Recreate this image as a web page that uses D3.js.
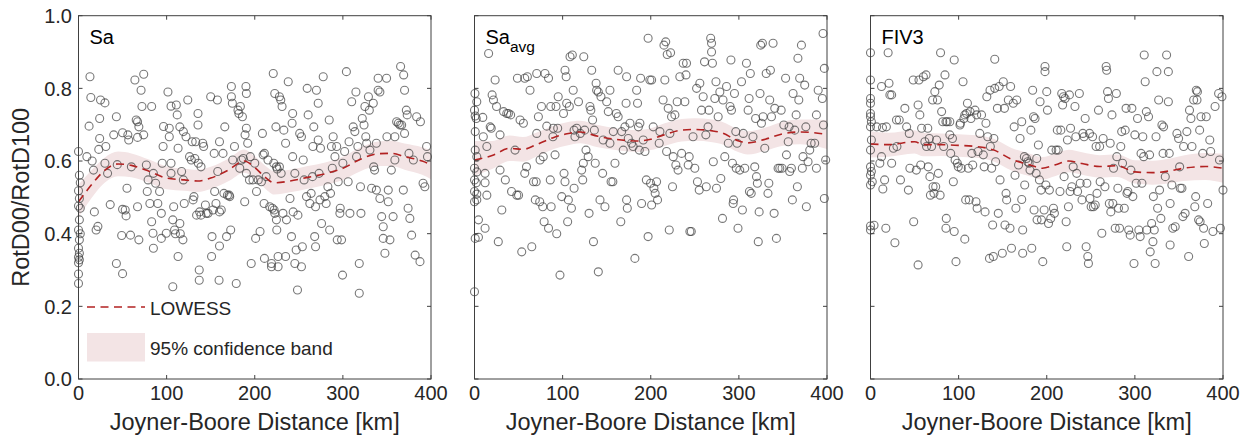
<!DOCTYPE html>
<html>
<head>
<meta charset="utf-8">
<script src="https://cdn.jsdelivr.net/npm/d3@7"></script>
<style>
  html, body { margin: 0; padding: 0; background: #fff; }
  svg { display: block; font-family: Helvetica, Arial, "Liberation Sans", sans-serif; }
</style>
</head>
<body>
<div id="chart"></div>
<script>
// ---- data ----
const xTicks = [0, 100, 200, 300, 400];
const yTicks = [0, 0.2, 0.4, 0.6, 0.8, 1.0];
const panelTitles = ["Sa", "Sa|avg", "FIV3"];
const xLabel = "Joyner-Boore Distance [km]";
const yLabel = "RotD00/RotD100";
const legendLabels = ["LOWESS", "95% confidence band"];

// [distance km, RotD00/RotD100]
const saPoints = [
  [0,0.626],[1,0.561],[2,0.54],[0,0.518],[1,0.497],[0,0.476],[2,0.47],[1,0.438],[0,0.41],[2,0.4],[1,0.383],[0,0.36],[1,0.346],[0,0.335],[1,0.328],[0,0.32],[0,0.289],[0,0.263],
  [13,0.832],[14,0.775],[12,0.696],[9.5,0.612],[15.5,0.6],[17,0.575],[18,0.46],[20,0.41],[22,0.42],[24,0.662],[23,0.632],[25,0.768],[30,0.76],[24,0.717],[31,0.64],[30,0.594],[33,0.566],[36,0.48],[40,0.672],[43,0.722],[44,0.59],[43,0.318],[50,0.678],[50,0.29],[49,0.395],[50,0.467],[53,0.465],[54,0.449],[56,0.672],[55,0.525],[57,0.658],[59,0.396],[60,0.584],[64,0.823],[65.5,0.713],[67,0.708],[67,0.474],[68.5,0.694],[67,0.665],[71,0.795],[74,0.839],[72,0.75],[74,0.672],[68.5,0.383],
  [77,0.589],[79,0.548],[78,0.516],[83,0.75],[81,0.483],[83,0.433],[84.5,0.401],[85,0.36],[85,0.566],[87.5,0.539],[90,0.483],[92,0.516],[94,0.387],[95,0.594],[96,0.64],[96.5,0.695],[94,0.456],[99.6,0.401],[101.5,0.79],[103,0.69],[103,0.667],[105,0.594],[105,0.566],[107,0.254],[105,0.751],[107,0.438],[108,0.474],[109,0.41],[110,0.4],[111,0.754],[112,0.727],[113,0.635],[113,0.337],[115,0.694],[115,0.428],[115.5,0.4],[117,0.571],[118.5,0.383],[119,0.681],[119,0.548],[120,0.483],[122,0.667],[124,0.768],[126,0.612],[128,0.603],[129,0.653],[130,0.493],[131,0.502],[132,0.607],[133,0.653],[134,0.451],[135.6,0.731],[135.6,0.699],[136,0.594],[137,0.3],[137,0.272],[137.5,0.46],[139,0.584],[139,0.451],[141,0.649],[142,0.64],[144,0.479],[145,0.456],[147,0.456],
  [150,0.777],[151,0.337],[151.5,0.392],[152.6,0.465],[154,0.621],[154.5,0.516],[156,0.483],[157.6,0.768],[158,0.571],[159.5,0.272],[160,0.653],[160,0.46],[160,0.366],[162,0.465],[164,0.621],[165,0.511],[166,0.694],[168,0.392],[169,0.506],[171,0.506],[171.6,0.502],[172.7,0.41],[173.5,0.805],[173.5,0.777],[174.6,0.759],[175,0.603],[177,0.64],[179,0.263],[181,0.74],[182,0.731],[183,0.58],[183.7,0.75],[185,0.603],[186,0.722],[187,0.607],[188.6,0.488],[189,0.672],[190,0.805],[190.5,0.786],[190.5,0.69],[190.5,0.566],[192,0.649],[194,0.548],[195,0.612],[196,0.318],[198,0.548],
  [200,0.594],[201,0.387],[202,0.516],[204,0.548],[206,0.406],[207.6,0.543],[208.7,0.676],[209.5,0.617],[210.6,0.483],[211,0.621],[211,0.332],[213,0.557],[215,0.603],[217,0.474],[219,0.318],[219,0.309],[220,0.47],[221,0.841],[221.6,0.594],[222,0.465],[222.7,0.456],[222.7,0.786],[224,0.694],[224.6,0.584],[225.5,0.578],[224.6,0.438],[225,0.41],[226.5,0.337],[226.5,0.309],[228,0.777],[229.5,0.768],[231,0.75],[228,0.584],[230,0.566],[232,0.456],[233,0.685],[235,0.337],[235,0.649],[236,0.438],[238,0.818],[240,0.497],[241.7,0.392],[242.4,0.704],[243,0.731],[243,0.612],[243.6,0.46],[245.5,0.318],[245.5,0.566],[247,0.355],[248.5,0.245],[249,0.451],
  [251,0.676],[253,0.667],[253,0.309],[254,0.364],[255,0.603],[256,0.548],[258.7,0.502],[259.5,0.8],[260.6,0.727],[262.5,0.483],[264,0.511],[265.5,0.557],[266,0.64],[267,0.694],[268,0.392],[269,0.364],[269,0.474],[270,0.795],[272,0.759],[272,0.658],[273,0.566],[274,0.493],[274.6,0.635],[275.8,0.428],[277.7,0.832],[279.5,0.502],[281,0.483],[283,0.529],[284.5,0.713],[285,0.41],[286,0.511],[287,0.64],[288,0.58],[289,0.667],[291,0.612],[293,0.64],[293.6,0.383],[294.7,0.543],[296.6,0.456],[297,0.47],[298.5,0.383],[299.6,0.286],
  [300,0.594],[302,0.626],[304,0.846],[306,0.543],[307,0.653],[308,0.456],[310,0.763],[311.7,0.694],[313.6,0.681],[314.8,0.79],[315.5,0.612],[317,0.64],[318.6,0.318],[318.6,0.236],[320,0.529],[320.5,0.456],[322,0.717],[324,0.699],[325,0.75],[326,0.667],[327,0.649],[329,0.777],[330,0.74],[330.7,0.63],[332.6,0.525],[334.5,0.759],[335,0.584],[336,0.575],[338,0.649],[338,0.52],[340,0.795],[340,0.828],[342,0.497],[342,0.79],[344,0.447],[345.8,0.419],[345.8,0.387],[347.7,0.346],[349.6,0.828],
  [350,0.667],[351.5,0.52],[351.5,0.488],[353.4,0.383],[355,0.575],[357,0.447],[359,0.667],[359,0.603],[361,0.708],[363,0.704],[364.8,0.699],[365.5,0.86],[366.7,0.699],[368.6,0.52],[369,0.837],[370,0.795],[370,0.676],[372,0.74],[373,0.727],[374,0.47],[375,0.621],[376,0.442],[378,0.396],[380,0.603],[382,0.341],[383.7,0.722],[387.5,0.323],[388,0.708],[391,0.539],[393,0.529],[395,0.64],[396,0.612]
];

const saAvgPoints = [
  [0.5,0.786],[2.6,0.763],[0,0.74],[0.8,0.724],[2,0.717],[9.4,0.72],[0.8,0.681],[0.8,0.63],[2.6,0.612],[0,0.58],[2.6,0.57],[0,0.548],[2,0.54],[0,0.516],[2.6,0.509],[0,0.488],[2.6,0.493],[4.5,0.438],[0.8,0.387],[4.5,0.39],[0,0.24],
  [16,0.896],[12,0.415],[10,0.667],[14,0.64],[12,0.566],[12,0.54],[14,0.506],[17.8,0.694],[19,0.69],[20,0.782],[21.5,0.768],[23.4,0.823],[25,0.75],[27,0.378],[29,0.672],[29,0.575],[31,0.465],[33,0.736],[35,0.548],[36.6,0.731],[38.5,0.731],[41,0.727],[42,0.516],[46,0.63],[48,0.506],[48.7,0.828],[50,0.506],[51.7,0.713],[53.6,0.35],[55.5,0.704],[57,0.828],[59,0.584],[57,0.566],[60,0.832],[63,0.795],[65,0.364],[67,0.543],[69,0.493],[70,0.543],[70.6,0.841],[70.6,0.676],[72.5,0.722],[74,0.488],[74.4,0.603],[76,0.75],[77.4,0.474],[78,0.612],[79,0.433],[80,0.841],[82,0.696],[84,0.415],[84,0.828],[86,0.548],[87,0.474],[86.5,0.75],[89,0.667],[89.5,0.69],[91.4,0.617],[92.5,0.75],[93.3,0.4],[94.4,0.69],[95,0.777],[97,0.286],[99,0.502],
  [101,0.731],[101.6,0.566],[102.7,0.543],[102.7,0.85],[104,0.832],[104.6,0.759],[105.7,0.433],[106.5,0.493],[107.6,0.75],[108.4,0.887],[110,0.47],[111,0.892],[112,0.795],[113,0.685],[113,0.525],[114,0.667],[116,0.69],[118,0.763],[120,0.676],[121.6,0.575],[122.8,0.548],[123.5,0.594],[124,0.887],[125,0.685],[126.5,0.63],[129,0.612],[130,0.456],[131,0.75],[132,0.74],[133,0.85],[134,0.713],[135,0.378],[136,0.685],[137,0.594],[138,0.814],[138.6,0.795],[140.5,0.295],[140.5,0.79],[142.4,0.493],[143.5,0.777],[145.4,0.566],[146,0.658],[148,0.474],
  [150,0.763],[151.8,0.736],[153.7,0.795],[153.7,0.649],[155,0.543],[157,0.543],[157.5,0.681],[159.4,0.594],[161,0.731],[163,0.85],[163,0.722],[166,0.433],[167,0.681],[168.8,0.63],[170.7,0.694],[172,0.759],[172.6,0.832],[172.6,0.493],[173.4,0.47],[174.5,0.662],[176.4,0.704],[178.3,0.649],[180,0.64],[182,0.332],[184,0.795],[185,0.759],[186,0.694],[187,0.63],[187.7,0.704],[188.5,0.828],[189.6,0.483],[191.5,0.658],[193.4,0.626],[195,0.548],[197,0.392],[197,0.938],[199,0.823],[199.8,0.539],
  [201,0.823],[201,0.479],[202.8,0.694],[203.6,0.525],[205,0.511],[206.6,0.543],[207.7,0.493],[209.6,0.649],[210.4,0.681],[214,0.768],[215,0.919],[216,0.823],[217,0.928],[218,0.626],[218.7,0.893],[219.8,0.745],[221,0.41],[221.7,0.676],[222.5,0.898],[223.6,0.722],[224.7,0.529],[225.5,0.612],[227.4,0.727],[228.5,0.589],[230,0.763],[231,0.575],[233,0.832],[235,0.621],[236.8,0.869],[238.7,0.763],[240,0.837],[240.6,0.869],[242.5,0.589],[243.6,0.612],[244.4,0.406],[246,0.406],[248,0.667],
  [250,0.58],[252,0.8],[253,0.543],[255,0.52],[255.7,0.814],[257.6,0.74],[259.5,0.777],[261,0.873],[262.5,0.672],[263,0.529],[265,0.694],[266,0.74],[268,0.938],[269,0.924],[269,0.9],[270,0.869],[271,0.598],[272.7,0.772],[274,0.818],[274.6,0.525],[276.5,0.722],[278.4,0.79],[279.5,0.552],[281.4,0.442],[282,0.768],[284,0.612],[286,0.805],[288,0.649],[290,0.75],[291,0.878],[291.6,0.74],[292.7,0.594],[293.5,0.483],[294,0.493],[295,0.786],[296.5,0.681],[297,0.58],[298,0.649],[299,0.415],
  [301,0.575],[303,0.818],[304,0.465],[305,0.676],[306.7,0.58],[308.6,0.869],[310.5,0.74],[311.6,0.772],[312,0.516],[313,0.841],[314,0.511],[316,0.667],[318,0.584],[319,0.717],[320,0.557],[321,0.539],[322,0.378],[323,0.46],[324,0.786],[324.8,0.919],[325.6,0.704],[326.7,0.924],[327.5,0.722],[329.4,0.635],[331,0.841],[333,0.511],[334,0.539],[335,0.768],[335.8,0.85],[337,0.722],[338.8,0.924],[340,0.456],[340.7,0.745],[342.6,0.387],[344.5,0.58],[346.4,0.58],[348,0.74],[349,0.58],
  [351,0.699],[353,0.828],[354,0.617],[356,0.653],[357,0.694],[357.7,0.571],[359.6,0.58],[360.7,0.493],[361.5,0.786],[363.4,0.685],[365,0.727],[366.4,0.529],[367,0.883],[368,0.768],[369,0.828],[371,0.919],[372,0.58],[372.8,0.612],[374.7,0.809],[376,0.694],[376.6,0.474],[378.5,0.598],[380.4,0.63],[382,0.649],[386,0.649],[388,0.58],[388,0.727],[390,0.795],[394.7,0.772],[395.5,0.951],[396,0.699],[397,0.855],[397,0.497],[398.5,0.603]
];

const fiv3Points = [
  [0,0.898],[20,0.898],[79.5,0.898],[95,0.878],[141,0.88],[0,0.823],[0,0.772],[0,0.759],[0,0.731],[0,0.722],[1,0.708],[0,0.694],[1,0.658],[0,0.63],[0,0.584],[1,0.571],[0,0.561],[2,0.543],[0,0.534],[0,0.421],[0,0.41],[4,0.423],
  [12.5,0.805],[7,0.694],[13.6,0.692],[18,0.694],[21,0.814],[22,0.782],[24,0.782],[12.5,0.612],[10.6,0.594],[16,0.548],[14,0.523],[17.4,0.415],[24,0.594],[26,0.635],[27.7,0.375],[29.5,0.713],[30,0.64],[32.6,0.713],[34,0.548],[39,0.745],[41,0.694],[43,0.52],[44,0.676],[44.7,0.58],[48.5,0.823],[49,0.433],[52,0.575],[54,0.754],[55,0.823],[56,0.727],[54,0.314],[57,0.589],[58,0.69],[60,0.832],[61.7,0.653],[63,0.837],[63.6,0.64],[65,0.69],[65.5,0.584],[66.7,0.662],[67.4,0.557],[68,0.506],[69.3,0.64],[70.5,0.768],[71,0.529],[72,0.511],[73,0.791],[74,0.529],[75,0.658],[76,0.768],[77,0.566],[78,0.809],[79,0.506],[80.7,0.736],[82,0.708],[83,0.64],[84.5,0.837],[85.6,0.708],[86,0.442],[87,0.708],[85.6,0.415],[90,0.708],[90,0.672],[91,0.621],[93,0.662],[94,0.543],[95,0.406],[96,0.603],[97,0.323],[98.5,0.594],[99.6,0.584],
  [101.5,0.699],[102,0.704],[103,0.58],[105,0.818],[106,0.717],[107,0.727],[107,0.385],[108,0.493],[109,0.731],[110,0.759],[111,0.58],[112,0.493],[113,0.736],[114,0.717],[115,0.621],[116,0.589],[118.6,0.74],[119.7,0.488],[120.5,0.727],[121,0.47],[122,0.626],[124,0.676],[126,0.727],[128,0.617],[129,0.584],[130,0.46],[131,0.704],[132,0.777],[133,0.667],[135,0.332],[135.6,0.795],[136,0.64],[137.5,0.58],[138.6,0.424],[139.4,0.337],[140,0.662],[141,0.8],[142,0.598],[144,0.745],[145,0.456],[146,0.805],[147,0.548],[149.6,0.346],
  [150.7,0.818],[152,0.745],[152.6,0.424],[153.8,0.511],[154.5,0.493],[156.4,0.768],[158.3,0.415],[159,0.805],[160,0.36],[162,0.759],[163,0.694],[164,0.561],[165,0.47],[166,0.768],[168,0.589],[169.7,0.662],[171.6,0.708],[171.6,0.494],[172.7,0.41],[172.7,0.346],[174.6,0.612],[175,0.534],[177,0.607],[178.4,0.598],[180,0.594],[181,0.575],[182,0.685],[183,0.36],[184,0.795],[185,0.722],[185.6,0.465],[186.7,0.717],[188,0.566],[188.6,0.607],[189,0.438],[190.5,0.644],[191.7,0.548],[192.4,0.763],[193.6,0.52],[194,0.438],[195.5,0.323],[197,0.465],[198,0.86],[198,0.846],[199,0.534],
  [200,0.791],[200.8,0.74],[202,0.428],[203,0.52],[204.5,0.442],[205.7,0.63],[207.6,0.47],[208.7,0.456],[210.6,0.63],[212,0.685],[213,0.63],[215,0.516],[216,0.685],[217,0.786],[218,0.754],[219,0.777],[219.7,0.557],[220.8,0.772],[222,0.433],[222.7,0.364],[223.5,0.658],[224.6,0.474],[225.7,0.782],[226.5,0.516],[227,0.69],[228.4,0.529],[230,0.584],[232,0.75],[233,0.667],[234,0.566],[235,0.516],[237,0.786],[238,0.539],[240,0.493],[241,0.676],[242.4,0.667],[243.6,0.717],[244.7,0.364],[245.5,0.539],[246.6,0.337],[247.3,0.318],[248.5,0.676],[249,0.497],
  [250.4,0.474],[252,0.667],[253,0.474],[255,0.479],[256,0.64],[257,0.511],[258.7,0.74],[260,0.64],[260.6,0.543],[262.5,0.401],[264,0.662],[266,0.529],[267.4,0.86],[268,0.85],[269,0.791],[270,0.772],[271,0.483],[272,0.649],[272.7,0.46],[274,0.727],[275,0.483],[275.8,0.58],[277.7,0.415],[279,0.786],[279.5,0.612],[280.7,0.525],[281.4,0.47],[282.6,0.415],[284,0.64],[285,0.681],[286,0.594],[288,0.47],[289,0.685],[290,0.745],[291,0.511],[292,0.516],[293,0.41],[294.7,0.396],[295.5,0.575],[296.6,0.745],[297.7,0.502],[299,0.318],
  [300,0.672],[301.5,0.539],[303,0.717],[304.5,0.41],[306,0.392],[307,0.621],[308,0.539],[309,0.667],[310,0.612],[310.6,0.892],[311.7,0.818],[313,0.736],[313.6,0.41],[315.5,0.722],[316.7,0.617],[317.4,0.35],[319,0.428],[320.5,0.378],[321,0.502],[322,0.41],[323,0.318],[324,0.667],[325,0.846],[325.8,0.47],[327,0.768],[328,0.52],[329.5,0.442],[330.7,0.699],[332,0.621],[332.6,0.694],[334.5,0.557],[336,0.892],[338,0.846],[338,0.763],[339,0.621],[340,0.483],[340,0.369],[342,0.534],[343,0.415],[345.8,0.419],[347.7,0.676],[349.6,0.662],
  [350.8,0.584],[351.5,0.525],[353.4,0.525],[354.5,0.447],[355.3,0.64],[357,0.456],[359,0.681],[361,0.337],[362,0.74],[363.6,0.717],[364.8,0.64],[366.7,0.768],[368,0.474],[369,0.502],[369.7,0.795],[370.5,0.768],[371,0.791],[372.3,0.438],[373.5,0.685],[374,0.433],[375,0.722],[377,0.621],[378,0.415],[378.8,0.373],[381,0.722],[382.6,0.483],[385,0.658],[386,0.626],[388.6,0.406],[391,0.75],[395,0.786],[396,0.603],[397,0.415],[398.8,0.777],[400,0.52]
];

// LOWESS fit with 95% band: [distance km, fit, lower, upper]
const saLowess = [
  [0,0.488,0.445,0.535],[10,0.52,0.482,0.562],[20,0.55,0.515,0.588],[30,0.575,0.541,0.61],[45,0.592,0.558,0.626],[60,0.588,0.555,0.621],
  [80,0.572,0.54,0.604],[100,0.553,0.522,0.585],[120,0.548,0.518,0.579],[135,0.545,0.515,0.576],[150,0.553,0.523,0.584],[170,0.575,0.544,0.606],
  [188,0.6,0.568,0.632],[200,0.582,0.551,0.613],[212,0.555,0.524,0.587],[222,0.54,0.508,0.572],[240,0.545,0.514,0.576],[260,0.555,0.524,0.586],
  [280,0.565,0.534,0.596],[300,0.58,0.548,0.612],[320,0.605,0.572,0.638],[340,0.62,0.586,0.654],[355,0.621,0.586,0.656],[370,0.612,0.576,0.648],
  [390,0.6,0.562,0.638],[400,0.59,0.55,0.63]
];
const saAvgLowess = [
  [0,0.603,0.56,0.655],[20,0.615,0.578,0.655],[40,0.635,0.6,0.67],[55,0.632,0.598,0.666],[70,0.645,0.612,0.678],[90,0.665,0.633,0.697],
  [105,0.675,0.643,0.707],[120,0.68,0.649,0.711],[140,0.668,0.638,0.699],[160,0.66,0.63,0.69],[185,0.655,0.625,0.685],[200,0.66,0.63,0.69],
  [215,0.672,0.641,0.703],[235,0.685,0.654,0.716],[250,0.687,0.656,0.718],[270,0.683,0.652,0.714],[280,0.678,0.647,0.709],[300,0.655,0.624,0.687],
  [310,0.65,0.618,0.682],[330,0.66,0.628,0.692],[350,0.675,0.642,0.708],[370,0.68,0.646,0.714],[400,0.673,0.633,0.713]
];
const fiv3Lowess = [
  [0,0.647,0.61,0.682],[20,0.645,0.612,0.678],[50,0.653,0.621,0.685],[60,0.645,0.613,0.677],[80,0.645,0.614,0.676],[100,0.643,0.612,0.674],
  [120,0.64,0.609,0.671],[140,0.63,0.599,0.661],[160,0.605,0.574,0.636],[180,0.59,0.559,0.621],[195,0.58,0.549,0.611],[210,0.59,0.559,0.621],
  [225,0.6,0.569,0.631],[240,0.593,0.562,0.624],[260,0.585,0.554,0.616],[280,0.587,0.556,0.618],[300,0.57,0.538,0.602],[320,0.568,0.535,0.601],
  [340,0.573,0.539,0.607],[355,0.58,0.545,0.615],[380,0.585,0.548,0.622],[400,0.58,0.54,0.62]
];

const panels = [
  { title: panelTitles[0], points: saPoints, lowess: saLowess },
  { title: panelTitles[1], points: saAvgPoints, lowess: saAvgLowess },
  { title: panelTitles[2], points: fiv3Points, lowess: fiv3Lowess }
];

// ---- layout ----
const W = 1246, H = 441;
const panelLefts = [78.5, 474.5, 870.5];
const panelW = 352.5;
const plotTop = 15.7, plotBottom = 379;
const axisColor = "#404040";
const textColor = "#262626";
const lineColor = "#b22222";
const bandColor = "#f3e4e5";

const svg = d3.select("#chart").append("svg")
  .attr("width", W).attr("height", H);

const y = d3.scaleLinear().domain([0, 1]).range([plotBottom, plotTop]);

panels.forEach((p, i) => {
  const left = panelLefts[i];
  const x = d3.scaleLinear().domain([0, 400]).range([left, left + panelW]);
  const g = svg.append("g");

  // confidence band
  const area = d3.area()
    .x(d => x(d[0]))
    .y0(d => y(d[2]))
    .y1(d => y(d[3]))
    .curve(d3.curveMonotoneX);
  g.append("path")
    .datum(p.lowess)
    .attr("fill", bandColor)
    .attr("d", area);

  // scatter
  g.append("g").selectAll("circle")
    .data(p.points)
    .join("circle")
    .attr("cx", d => x(d[0]))
    .attr("cy", d => y(d[1]))
    .attr("r", 4)
    .attr("fill", "none")
    .attr("stroke", "#444")
    .attr("stroke-opacity", 0.72)
    .attr("stroke-width", 1.1);

  // lowess line
  const line = d3.line()
    .x(d => x(d[0]))
    .y(d => y(d[1]))
    .curve(d3.curveMonotoneX);
  g.append("path")
    .datum(p.lowess)
    .attr("fill", "none")
    .attr("stroke", lineColor)
    .attr("stroke-width", 1.6)
    .attr("stroke-dasharray", "8,5.5")
    .attr("d", line);

  // box + ticks (inward, all four sides)
  const box = g.append("g");
  box.append("rect")
    .attr("x", left).attr("y", plotTop)
    .attr("width", panelW).attr("height", plotBottom - plotTop)
    .attr("fill", "none")
    .attr("stroke", axisColor)
    .attr("stroke-width", 1);

  const tl = 4;
  xTicks.forEach(t => {
    box.append("line").attr("x1", x(t)).attr("x2", x(t)).attr("y1", plotBottom).attr("y2", plotBottom - tl).attr("stroke", axisColor);
    box.append("line").attr("x1", x(t)).attr("x2", x(t)).attr("y1", plotTop).attr("y2", plotTop + tl).attr("stroke", axisColor);
    box.append("text")
      .attr("x", x(t)).attr("y", 400)
      .attr("text-anchor", "middle")
      .attr("font-size", "20px")
      .attr("fill", textColor)
      .text(t);
  });
  yTicks.forEach(t => {
    box.append("line").attr("x1", left).attr("x2", left + tl).attr("y1", y(t)).attr("y2", y(t)).attr("stroke", axisColor);
    box.append("line").attr("x1", left + panelW).attr("x2", left + panelW - tl).attr("y1", y(t)).attr("y2", y(t)).attr("stroke", axisColor);
    if (i === 0) {
      box.append("text")
        .attr("x", 72).attr("y", y(t))
        .attr("dy", "0.36em")
        .attr("text-anchor", "end")
        .attr("font-size", "20px")
        .attr("fill", textColor)
        .text(d3.format(".1f")(t));
    }
  });

  // x label
  g.append("text")
    .attr("x", left + panelW / 2).attr("y", 430)
    .attr("text-anchor", "middle")
    .attr("font-size", "23.5px")
    .attr("fill", textColor)
    .text(xLabel);

  // panel title
  const [main, sub] = p.title.split("|");
  const title = g.append("text")
    .attr("x", left + 11).attr("y", 44)
    .attr("font-size", "20px")
    .attr("fill", "#000")
    .text(main);
  if (sub) {
    title.append("tspan")
      .attr("dy", 8)
      .attr("font-size", "15.5px")
      .text(sub);
  }
});

// y label
svg.append("text")
  .attr("transform", `translate(29,${(plotTop + plotBottom) / 2}) rotate(-90)`)
  .attr("text-anchor", "middle")
  .attr("font-size", "23.5px")
  .attr("fill", textColor)
  .text(yLabel);

// legend (first panel)
const lg = svg.append("g");
lg.append("line")
  .attr("x1", 87).attr("x2", 145)
  .attr("y1", 307).attr("y2", 307)
  .attr("stroke", lineColor)
  .attr("stroke-width", 1.6)
  .attr("stroke-dasharray", "8,5.5");
lg.append("text")
  .attr("x", 150).attr("y", 315)
  .attr("font-size", "19px")
  .attr("fill", textColor)
  .text(legendLabels[0]);
lg.append("rect")
  .attr("x", 87).attr("y", 333)
  .attr("width", 58).attr("height", 28.5)
  .attr("fill", bandColor);
lg.append("text")
  .attr("x", 150).attr("y", 355)
  .attr("font-size", "19px")
  .attr("fill", textColor)
  .text(legendLabels[1]);
</script>
</body>
</html>
